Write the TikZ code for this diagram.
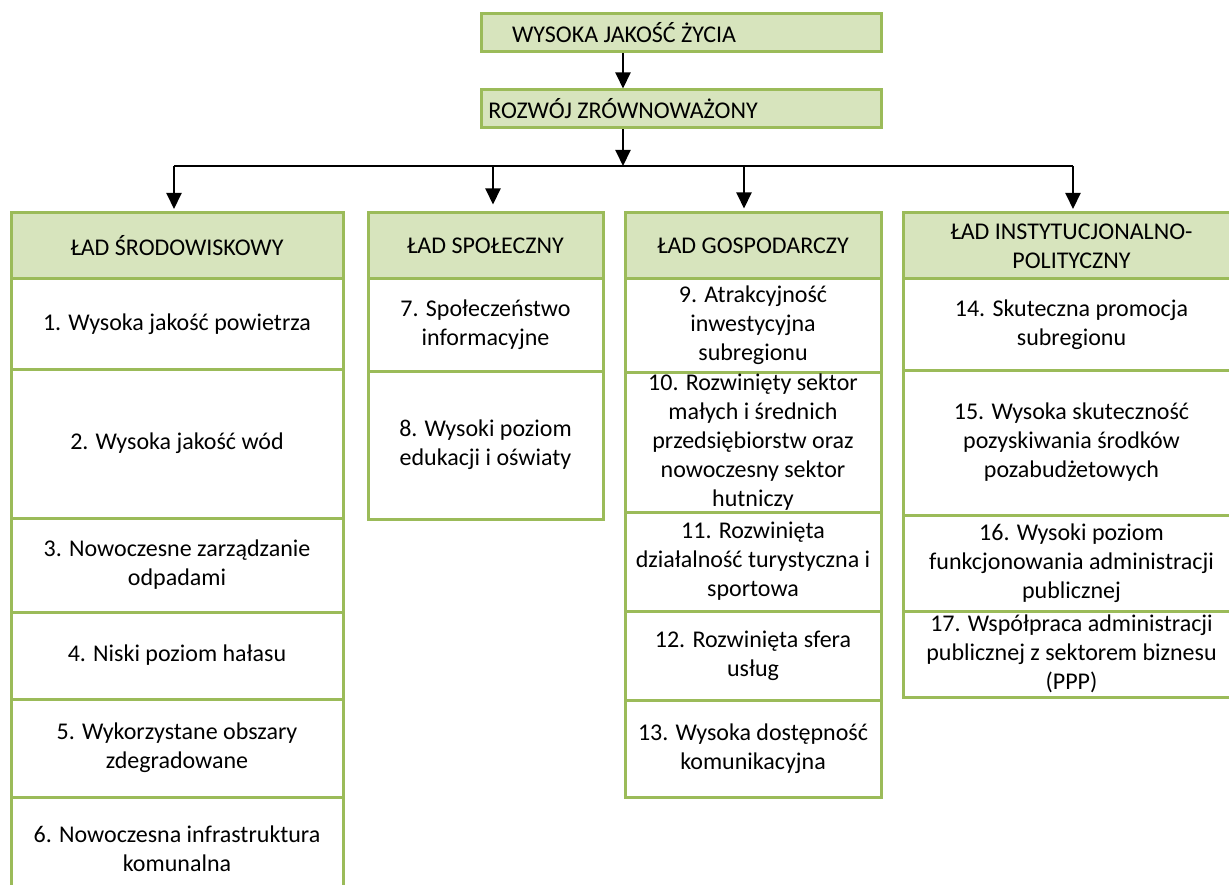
\documentclass[tikz,border=0pt]{standalone}
\usepackage{fontspec}
\setmainfont{Carlito}
\usetikzlibrary{arrows.meta}
\definecolor{gfill}{HTML}{D7E4BD}
\definecolor{gline}{HTML}{9BBB59}
\begin{document}
\begin{tikzpicture}[x=1pt,y=-1pt,
  box/.style={draw=gline, line width=3pt, rectangle, inner sep=0pt, align=center, font=\fontsize{24}{29}\selectfont},
  hbox/.style={box, fill=gfill},
  cell/.style={box, fill=white},
  txt/.style={inner sep=0pt, align=center, font=\fontsize{24}{29}\selectfont},
  arr/.style={line width=2pt, -{Triangle[width=15pt,length=16pt]}},
  bar/.style={line width=2pt},
  ]
\useasboundingbox (0,0) rectangle (1229,885);
% top boxes
\node[hbox, minimum width=400pt, minimum height=38pt] (q) at (681,33) {};
\node[txt] (qt) at (624,33) {WYSOKA JAKOŚĆ ŻYCIA};
\node[hbox, minimum width=400pt, minimum height=38pt] (r) at (681,109) {};
\node[txt] (rt) at (623,109) {ROZWÓJ ZRÓWNOWAŻONY};
% column 1
\node[hbox, minimum width=332pt, minimum height=66pt] (h1) at (177,246) {ŁAD ŚRODOWISKOWY};
\node[cell, minimum width=332pt, minimum height=90pt] (c1) at (177,324) {1. Wysoka jakość powietrza};
\node[cell, minimum width=332pt, minimum height=149pt] (c2) at (177,443.5) {2. Wysoka jakość wód};
\node[cell, minimum width=332pt, minimum height=94pt] (c3) at (177,565) {3. Nowoczesne zarządzanie\\odpadami};
\node[cell, minimum width=332pt, minimum height=87pt] (c4) at (177,655.5) {4. Niski poziom hałasu};
\node[cell, minimum width=332pt, minimum height=98pt] (c5) at (177,748) {5. Wykorzystane obszary\\zdegradowane};
\node[cell, minimum width=332pt, minimum height=103pt] (c6) at (177,848.5) {6. Nowoczesna infrastruktura\\komunalna};
% column 2
\node[hbox, minimum width=235pt, minimum height=66pt] (h2) at (485.5,246) {ŁAD SPOŁECZNY};
\node[cell, minimum width=235pt, minimum height=92pt] (c7) at (485.5,325) {7. Społeczeństwo\\informacyjne};
\node[cell, minimum width=235pt, minimum height=148pt] (c8) at (485.5,445) {8. Wysoki poziom\\edukacji i oświaty};
% column 3
\node[hbox, minimum width=256pt, minimum height=66pt] (h3) at (753,246) {ŁAD GOSPODARCZY};
\node[cell, minimum width=256pt, minimum height=93pt] (c9) at (753,325.5) {9. Atrakcyjność\\inwestycyjna\\subregionu};
\node[cell, minimum width=256pt, minimum height=140pt] (c10) at (753,442) {10. Rozwinięty sektor\\małych i średnich\\przedsiębiorstw oraz\\nowoczesny sektor\\hutniczy};
\node[cell, minimum width=256pt, minimum height=99pt] (c11) at (753,561.5) {11. Rozwinięta\\działalność turystyczna i\\sportowa};
\node[cell, minimum width=256pt, minimum height=89pt] (c12) at (753,655.5) {12. Rozwinięta sfera\\usług};
\node[cell, minimum width=256pt, minimum height=97pt] (c13) at (753,748.5) {13. Wysoka dostępność\\komunikacyjna};
% column 4
\node[hbox, minimum width=337pt, minimum height=66pt] (h4) at (1071.5,246) {ŁAD INSTYTUCJONALNO-\\POLITYCZNY};
\node[cell, minimum width=337pt, minimum height=91pt] (c14) at (1071.5,324.5) {14. Skuteczna promocja\\subregionu};
\node[cell, minimum width=337pt, minimum height=145pt] (c15) at (1071.5,442.5) {15. Wysoka skuteczność\\pozyskiwania środków\\pozabudżetowych};
\node[cell, minimum width=337pt, minimum height=96pt] (c16) at (1071.5,563) {16. Wysoki poziom\\funkcjonowania administracji\\publicznej};
\node[cell, minimum width=337pt, minimum height=86pt] (c17) at (1071.5,654) {17. Współpraca administracji\\publicznej z sektorem biznesu\\(PPP)};
% connectors
\coordinate (hb) at (623,166);
\coordinate (d1) at (174,166);
\coordinate (d2) at (493,166);
\coordinate (d3) at (744,166);
\coordinate (d4) at (1073,166);
\draw[arr] (q.south -| hb) -- (r.north -| hb);
\draw[arr] (r.south -| hb) -- (hb);
\draw[bar] (d1) -- (d4);
\draw[arr, shorten >=2.5pt] (d1) -- (d1 |- h1.north);
\draw[arr, shorten >=7pt] (d2) -- (d2 |- h2.north);
\draw[arr, shorten >=3pt] (d3) -- (d3 |- h3.north);
\draw[arr, shorten >=2.5pt] (d4) -- (d4 |- h4.north);
\end{tikzpicture}
\end{document}
